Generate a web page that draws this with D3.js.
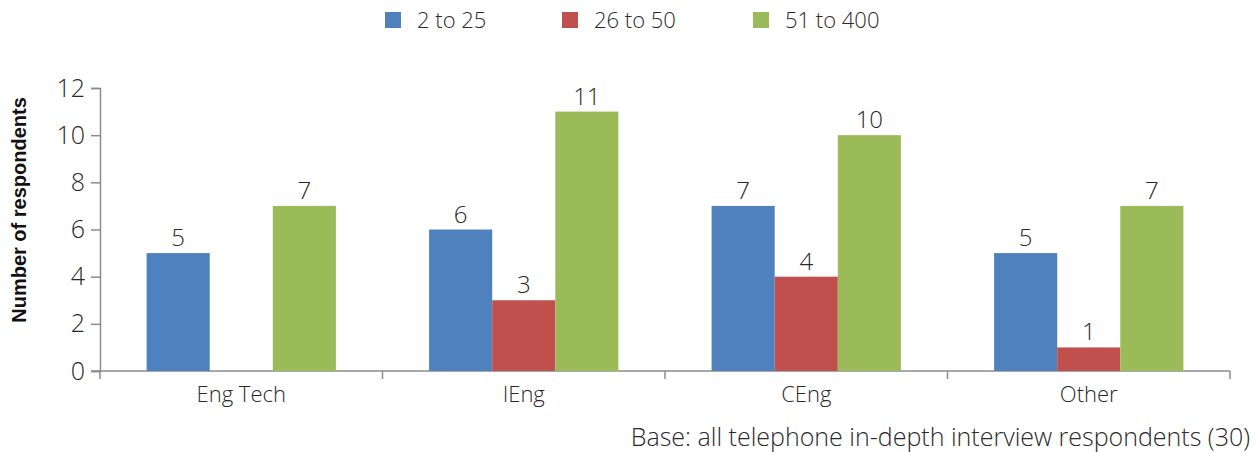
<!DOCTYPE html>
<html><head><meta charset="utf-8">
<script src="https://cdn.jsdelivr.net/npm/d3@7"></script>
<style>body{margin:0;background:#fff}svg{display:block}</style>
</head><body>
<svg id="c" width="1256" height="452"></svg>
<script>
const categories = ["Eng Tech", "IEng", "CEng", "Other"];
const seriesNames = ["2 to 25", "26 to 50", "51 to 400"];
const s1 = [5, 6, 7, 5];
const s2 = [0, 3, 4, 1];
const s3 = [7, 11, 10, 7];
const yTicks = [0, 2, 4, 6, 8, 10, 12];
const colors = ["#4F81BD", "#C0504D", "#9BBB59"];
const series = [s1, s2, s3];

(function () {
const svg = d3.select("#c");
const font = "'Open Sans',sans-serif";
const fw = 300;
const txt = "#2a2a2a";
const mLeft = 100, mRight = 1230, mTop = 88, mBottom = 371;

const x0 = d3.scaleBand().domain(categories).range([mLeft, mRight]).paddingInner(0.33).paddingOuter(0.165);
const x1 = d3.scaleBand().domain(seriesNames).range([0, x0.bandwidth()]);
const y = d3.scaleLinear().domain([0, 12]).range([mBottom, mTop]);
const axisColor = "#8c8c8c";

// y axis
const ya = svg.append("g").attr("transform", `translate(${mLeft},0)`)
  .call(d3.axisLeft(y).tickValues(yTicks).tickSize(9).tickPadding(6));
ya.select(".domain").attr("stroke", axisColor).attr("stroke-width", 1.5);
ya.selectAll(".tick line").attr("stroke", axisColor).attr("stroke-width", 1.5);
ya.selectAll(".tick text").attr("font-family", font).attr("font-weight", fw)
  .attr("font-size", 25).attr("fill", txt);

// x axis line
svg.append("line").attr("x1", mLeft - 9).attr("x2", mRight).attr("y1", y(0)).attr("y2", y(0))
  .attr("stroke", axisColor).attr("stroke-width", 1.5);
// boundary ticks between categories
const step = x0.step();
const half = (step - x0.bandwidth()) / 2;
const bounds = categories.map(c => x0(c) - half).concat([x0(categories[categories.length - 1]) + x0.bandwidth() + half]);
svg.selectAll(".bt").data(bounds).join("line")
  .attr("x1", d => d).attr("x2", d => d).attr("y1", y(0)).attr("y2", y(0) + 8)
  .attr("stroke", axisColor).attr("stroke-width", 1.5);
// category labels
svg.selectAll(".cl").data(categories).join("text")
  .attr("x", d => x0(d) + x0.bandwidth() / 2).attr("y", 402)
  .attr("text-anchor", "middle").attr("font-family", font).attr("font-weight", fw)
  .attr("font-size", 22).attr("fill", txt)
  .text(d => d);

// bars
const groups = svg.selectAll(".g").data(categories).join("g")
  .attr("transform", d => `translate(${x0(d)},0)`);
groups.each(function(cat, ci) {
  const g = d3.select(this);
  seriesNames.forEach((sn, si) => {
    const v = series[si][ci];
    if (v > 0) {
      g.append("rect").attr("x", x1(sn)).attr("width", x1.bandwidth())
        .attr("y", y(v)).attr("height", y(0) - y(v)).attr("fill", colors[si]);
      g.append("text").attr("x", x1(sn) + x1.bandwidth() / 2).attr("y", y(v) - 7)
        .attr("text-anchor", "middle").attr("font-family", font).attr("font-weight", fw)
        .attr("font-size", 24).attr("fill", txt)
        .text(v);
    }
  });
});

// y title
svg.append("text").attr("transform", "translate(26,210) rotate(-90)")
  .attr("text-anchor", "middle").attr("font-family", "'Liberation Sans',sans-serif").attr("font-weight", "bold")
  .attr("font-size", 20).attr("fill", "#111").text("Number of respondents");

// legend
const legX = [385, 562, 753];
seriesNames.forEach((sn, i) => {
  svg.append("rect").attr("x", legX[i]).attr("y", 12).attr("width", 16).attr("height", 16).attr("fill", colors[i]);
  svg.append("text").attr("x", legX[i] + 32).attr("y", 28).attr("font-family", font).attr("font-weight", fw)
    .attr("font-size", 22).attr("fill", txt).text(sn);
});

// footnote
svg.append("text").attr("x", 1250).attr("y", 446).attr("text-anchor", "end")
  .attr("font-family", font).attr("font-weight", fw).attr("font-size", 25).attr("fill", txt)
  .text("Base: all telephone in-depth interview respondents (30)");
})();
</script>
</body></html>
